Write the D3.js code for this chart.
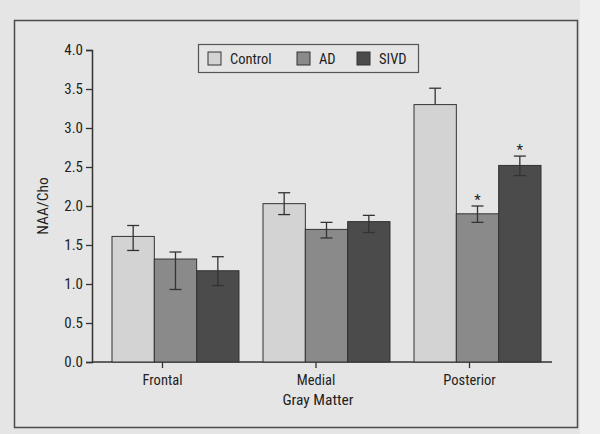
<!DOCTYPE html>
<html><head><meta charset="utf-8">
<script src="https://cdn.jsdelivr.net/npm/d3@7"></script>
<style>
html,body{margin:0;padding:0;background:#e6e6e6;}
svg{display:block;}
text{font-family:"Roboto Condensed",Roboto,sans-serif;fill:#1f1f1f;}
</style></head><body>
<svg id="c" width="600" height="434"></svg>
<script>
const regions = ["Frontal", "Medial", "Posterior"];
const groups = ["Control", "AD", "SIVD"];
const values = {
  Control: [1.61, 2.03, 3.30],
  AD:      [1.32, 1.70, 1.90],
  SIVD:    [1.17, 1.80, 2.52]
};
const errHigh = {
  Control: [1.75, 2.17, 3.51],
  AD:      [1.41, 1.79, 2.00],
  SIVD:    [1.35, 1.88, 2.64]
};
const errLow = {
  Control: [1.43, 1.89, 3.30],
  AD:      [0.93, 1.59, 1.79],
  SIVD:    [0.98, 1.66, 2.39]
};
const significant = {
  Control: [false, false, false],
  AD:      [false, false, true],
  SIVD:    [false, false, true]
};
const yTicks = [0, 0.5, 1.0, 1.5, 2.0, 2.5, 3.0, 3.5, 4.0];
const colors = {Control: "#d3d3d3", AD: "#8a8a8a", SIVD: "#4b4b4b"};

const svg = d3.select("#c");
svg.append("rect").attr("x",0).attr("y",0).attr("width",600).attr("height",434).attr("fill","#e5e5e5");
svg.append("rect").attr("x",580).attr("y",0).attr("width",20).attr("height",434).attr("fill","#efefef");
svg.append("rect").attr("x",14.5).attr("y",20.5).attr("width",563).attr("height",407)
  .attr("fill","none").attr("stroke","#4a4a4a").attr("stroke-width",1.5);

const y = d3.scaleLinear().domain([0,4]).range([362,50]);
const xg = d3.scaleBand().domain(regions).range([112, 541]).paddingInner(0.159).paddingOuter(0);
const x1 = d3.scaleBand().domain(groups).range([0, xg.bandwidth()]);
const xTick = d3.scalePoint().domain(regions).range([162, 469]);

// axes
const gy = svg.append("g").attr("transform","translate(92,0)")
  .call(d3.axisLeft(y).tickValues(yTicks).tickFormat(d3.format(".1f")).tickSize(6));
gy.selectAll("text").attr("font-size",15).attr("x",-9).attr("fill","#1f1f1f");
gy.selectAll("line").attr("stroke","#333").attr("stroke-width",1.3);
gy.select(".domain").attr("stroke","#333").attr("stroke-width",1.5);

const gx = svg.append("g").attr("transform","translate(0,362)")
  .call(d3.axisBottom(xTick).tickSize(6).tickSizeOuter(0));
gx.select(".domain").remove();
gx.selectAll("line").attr("stroke","#333").attr("stroke-width",1.3);
gx.selectAll("text").attr("font-size",14.5).attr("dy",0).attr("y",23).attr("fill","#1f1f1f");
svg.append("line").attr("x1",92).attr("x2",552).attr("y1",362).attr("y2",362).attr("stroke","#333").attr("stroke-width",1.5);

// bars
const data = [];
regions.forEach((r,i)=>groups.forEach(g=>data.push({r,g,v:values[g][i],hi:errHigh[g][i],lo:errLow[g][i],sig:significant[g][i]})));
const bx = d => xg(d.r) + x1(d.g);
const bw = x1.bandwidth();
svg.append("g").selectAll("rect").data(data).join("rect")
  .attr("x", bx).attr("width", bw)
  .attr("y", d=>y(d.v)).attr("height", d=>y(0)-y(d.v))
  .attr("fill", d=>colors[d.g]).attr("stroke","#333").attr("stroke-width",1);

// error bars
const eb = svg.append("g").attr("stroke","#333").attr("stroke-width",1.3);
data.forEach(d=>{
  const cx = bx(d)+bw/2;
  eb.append("line").attr("x1",cx).attr("x2",cx).attr("y1",y(d.hi)).attr("y2",y(d.lo));
  eb.append("line").attr("x1",cx-6).attr("x2",cx+6).attr("y1",y(d.hi)).attr("y2",y(d.hi));
  if (d.lo < d.v) eb.append("line").attr("x1",cx-6).attr("x2",cx+6).attr("y1",y(d.lo)).attr("y2",y(d.lo));
  if (d.sig) svg.append("text").attr("x",cx).attr("y",y(d.hi)-1).attr("text-anchor","middle")
    .attr("font-size",15).text("*");
});

// axis titles
svg.append("text").attr("transform","translate(48,206) rotate(-90)").attr("text-anchor","middle")
  .attr("font-size",15.5).text("NAA/Cho");
svg.append("text").attr("x",318).attr("y",405).attr("text-anchor","middle").attr("font-size",15.5).text("Gray Matter");

// legend
const lg = svg.append("g");
lg.append("rect").attr("x",198.5).attr("y",44.5).attr("width",220).attr("height",28).attr("fill","#e5e5e5").attr("stroke","#555").attr("stroke-width",1.2);
const lx = [208, 297, 357];
groups.forEach((g,i)=>{
  lg.append("rect").attr("x",lx[i]).attr("y",52).attr("width",13).attr("height",13).attr("fill",colors[g]).attr("stroke","#333").attr("stroke-width",1);
  lg.append("text").attr("x",lx[i]+22).attr("y",63.5).attr("font-size",14.5).text(g);
});
</script>
</body></html>
